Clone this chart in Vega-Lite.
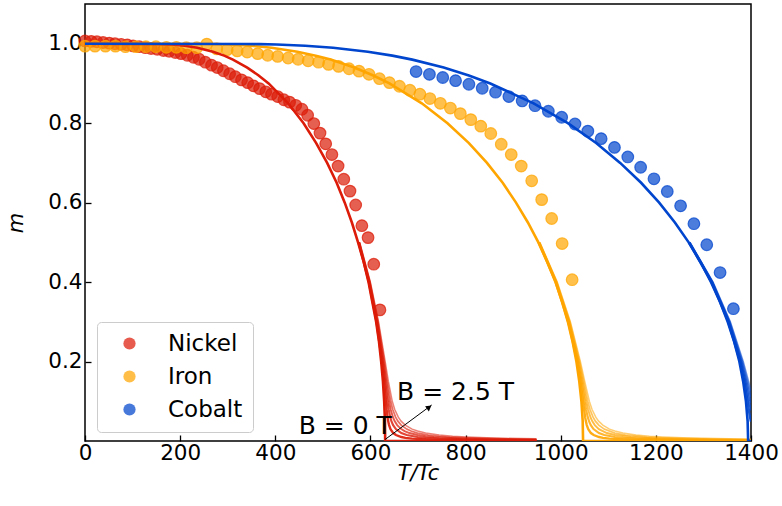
{
"$schema": "https://vega.github.io/schema/vega-lite/v6.json",
"width": 666, "height": 437,
"autosize": {"type": "none"},
"padding": {"left": 85, "top": 4, "right": 31, "bottom": 65},
"background": "white",
"config": {
  "font": "DejaVu Sans",
  "view": {"stroke": "black", "strokeWidth": 1.5},
  "axis": {"domain": false, "grid": false, "tickColor": "black", "tickSize": -6, "tickWidth": 1.3, "labelColor": "black", "labelFont": "DejaVu Sans", "labelFontSize": 21.5, "labelFlush": false, "titleFont": "DejaVu Sans", "titleFontSize": 21, "titleFontStyle": "italic", "titleFontWeight": "normal", "titleColor": "black"}
},
"datasets": {
  "pts": [
    {"el":"Nickel","T":0,"m":1.007},{"el":"Nickel","T":13,"m":1.006},{"el":"Nickel","T":25,"m":1.005},{"el":"Nickel","T":38,"m":1.003},{"el":"Nickel","T":51,"m":1.0015},{"el":"Nickel","T":63,"m":1.0},{"el":"Nickel","T":76,"m":0.9985},{"el":"Nickel","T":89,"m":0.997},{"el":"Nickel","T":101,"m":0.9945},{"el":"Nickel","T":114,"m":0.9925},{"el":"Nickel","T":127,"m":0.99},{"el":"Nickel","T":139,"m":0.988},{"el":"Nickel","T":152,"m":0.986},{"el":"Nickel","T":165,"m":0.983},{"el":"Nickel","T":177,"m":0.981},{"el":"Nickel","T":190,"m":0.978},{"el":"Nickel","T":202,"m":0.975},{"el":"Nickel","T":215,"m":0.971},{"el":"Nickel","T":228,"m":0.966},{"el":"Nickel","T":240,"m":0.961},{"el":"Nickel","T":253,"m":0.9535},{"el":"Nickel","T":266,"m":0.946},{"el":"Nickel","T":278,"m":0.94},{"el":"Nickel","T":291,"m":0.932},{"el":"Nickel","T":304,"m":0.9245},{"el":"Nickel","T":316,"m":0.917},{"el":"Nickel","T":329,"m":0.909},{"el":"Nickel","T":342,"m":0.902},{"el":"Nickel","T":354,"m":0.894},{"el":"Nickel","T":367,"m":0.887},{"el":"Nickel","T":380,"m":0.879},{"el":"Nickel","T":392,"m":0.873},{"el":"Nickel","T":405,"m":0.867},{"el":"Nickel","T":418,"m":0.859},{"el":"Nickel","T":430,"m":0.853},{"el":"Nickel","T":443,"m":0.845},{"el":"Nickel","T":456,"m":0.835},{"el":"Nickel","T":468,"m":0.82},{"el":"Nickel","T":481,"m":0.799},{"el":"Nickel","T":494,"m":0.775},{"el":"Nickel","T":506,"m":0.748},{"el":"Nickel","T":519,"m":0.721},{"el":"Nickel","T":532,"m":0.692},{"el":"Nickel","T":544,"m":0.659},{"el":"Nickel","T":557,"m":0.629},{"el":"Nickel","T":569,"m":0.594},{"el":"Nickel","T":582,"m":0.542},{"el":"Nickel","T":595,"m":0.512},{"el":"Nickel","T":607,"m":0.445},{"el":"Nickel","T":620,"m":0.33},
    {"el":"Iron","T":0,"m":0.994},{"el":"Iron","T":21,"m":0.994},{"el":"Iron","T":43,"m":0.994},{"el":"Iron","T":64,"m":0.994},{"el":"Iron","T":85,"m":0.9925},{"el":"Iron","T":107,"m":0.9925},{"el":"Iron","T":128,"m":0.9925},{"el":"Iron","T":149,"m":0.9925},{"el":"Iron","T":171,"m":0.991},{"el":"Iron","T":192,"m":0.991},{"el":"Iron","T":213,"m":0.99},{"el":"Iron","T":235,"m":0.99},{"el":"Iron","T":256,"m":0.999},{"el":"Iron","T":277,"m":0.987},{"el":"Iron","T":299,"m":0.985},{"el":"Iron","T":320,"m":0.982},{"el":"Iron","T":341,"m":0.979},{"el":"Iron","T":363,"m":0.975},{"el":"Iron","T":384,"m":0.971},{"el":"Iron","T":405,"m":0.968},{"el":"Iron","T":427,"m":0.964},{"el":"Iron","T":448,"m":0.961},{"el":"Iron","T":469,"m":0.957},{"el":"Iron","T":491,"m":0.9535},{"el":"Iron","T":512,"m":0.948},{"el":"Iron","T":533,"m":0.943},{"el":"Iron","T":555,"m":0.937},{"el":"Iron","T":576,"m":0.931},{"el":"Iron","T":597,"m":0.923},{"el":"Iron","T":619,"m":0.912},{"el":"Iron","T":640,"m":0.902},{"el":"Iron","T":661,"m":0.893},{"el":"Iron","T":683,"m":0.883},{"el":"Iron","T":704,"m":0.873},{"el":"Iron","T":725,"m":0.862},{"el":"Iron","T":747,"m":0.85},{"el":"Iron","T":768,"m":0.838},{"el":"Iron","T":789,"m":0.824},{"el":"Iron","T":811,"m":0.809},{"el":"Iron","T":832,"m":0.7925},{"el":"Iron","T":853,"m":0.774},{"el":"Iron","T":875,"m":0.747},{"el":"Iron","T":896,"m":0.721},{"el":"Iron","T":917,"m":0.692},{"el":"Iron","T":939,"m":0.655},{"el":"Iron","T":960,"m":0.6075},{"el":"Iron","T":981,"m":0.56},{"el":"Iron","T":1003,"m":0.497},{"el":"Iron","T":1024,"m":0.406},
    {"el":"Cobalt","T":696,"m":0.93},{"el":"Cobalt","T":724,"m":0.923},{"el":"Cobalt","T":752,"m":0.915},{"el":"Cobalt","T":779,"m":0.907},{"el":"Cobalt","T":807,"m":0.898},{"el":"Cobalt","T":835,"m":0.888},{"el":"Cobalt","T":863,"m":0.878},{"el":"Cobalt","T":891,"m":0.867},{"el":"Cobalt","T":919,"m":0.856},{"el":"Cobalt","T":946,"m":0.844},{"el":"Cobalt","T":974,"m":0.83},{"el":"Cobalt","T":1002,"m":0.815},{"el":"Cobalt","T":1030,"m":0.798},{"el":"Cobalt","T":1057,"m":0.78},{"el":"Cobalt","T":1085,"m":0.761},{"el":"Cobalt","T":1113,"m":0.739},{"el":"Cobalt","T":1141,"m":0.715},{"el":"Cobalt","T":1168,"m":0.689},{"el":"Cobalt","T":1196,"m":0.66},{"el":"Cobalt","T":1224,"m":0.628},{"el":"Cobalt","T":1252,"m":0.592},{"el":"Cobalt","T":1280,"m":0.547},{"el":"Cobalt","T":1307,"m":0.494},{"el":"Cobalt","T":1335,"m":0.424},{"el":"Cobalt","T":1363,"m":0.333}
  ],
  "lines": [
    {"el":"Nickel","B":0,"T":0,"m":1},{"el":"Nickel","B":0,"T":152,"m":0.9995},{"el":"Nickel","B":0,"T":182,"m":0.998},{"el":"Nickel","B":0,"T":210,"m":0.995},{"el":"Nickel","B":0,"T":236,"m":0.99},{"el":"Nickel","B":0,"T":269,"m":0.98},{"el":"Nickel","B":0,"T":292.5,"m":0.97},{"el":"Nickel","B":0,"T":311,"m":0.96},{"el":"Nickel","B":0,"T":341,"m":0.94},{"el":"Nickel","B":0,"T":365,"m":0.92},{"el":"Nickel","B":0,"T":386,"m":0.9},{"el":"Nickel","B":0,"T":427,"m":0.85},{"el":"Nickel","B":0,"T":459.5,"m":0.8},{"el":"Nickel","B":0,"T":486,"m":0.75},{"el":"Nickel","B":0,"T":509,"m":0.7},{"el":"Nickel","B":0,"T":529,"m":0.65},{"el":"Nickel","B":0,"T":546,"m":0.6},{"el":"Nickel","B":0,"T":561,"m":0.55},{"el":"Nickel","B":0,"T":574,"m":0.5},{"el":"Nickel","B":0,"T":586,"m":0.45},{"el":"Nickel","B":0,"T":596,"m":0.4},{"el":"Nickel","B":0,"T":604,"m":0.35},{"el":"Nickel","B":0,"T":612,"m":0.3},{"el":"Nickel","B":0,"T":618,"m":0.25},{"el":"Nickel","B":0,"T":622.6,"m":0.2},{"el":"Nickel","B":0,"T":626.3,"m":0.15},{"el":"Nickel","B":0,"T":628.9,"m":0.1},{"el":"Nickel","B":0,"T":630.5,"m":0.05},{"el":"Nickel","B":0,"T":631,"m":0},{"el":"Nickel","B":0,"T":949,"m":0},
    {"el":"Nickel","B":0.5,"T":575,"m":0.5},{"el":"Nickel","B":0.5,"T":596.7,"m":0.4},{"el":"Nickel","B":0.5,"T":612.8,"m":0.3},{"el":"Nickel","B":0.5,"T":624.3,"m":0.2},{"el":"Nickel","B":0.5,"T":628.7,"m":0.15},{"el":"Nickel","B":0.5,"T":632.3,"m":0.1},{"el":"Nickel","B":0.5,"T":633.9,"m":0.08},{"el":"Nickel","B":0.5,"T":635.9,"m":0.06},{"el":"Nickel","B":0.5,"T":637.3,"m":0.05},{"el":"Nickel","B":0.5,"T":639.2,"m":0.04},{"el":"Nickel","B":0.5,"T":642.2,"m":0.03},{"el":"Nickel","B":0.5,"T":648,"m":0.02},{"el":"Nickel","B":0.5,"T":653.7,"m":0.015},{"el":"Nickel","B":0.5,"T":665.1,"m":0.01},{"el":"Nickel","B":0.5,"T":673.6,"m":0.008},{"el":"Nickel","B":0.5,"T":687.8,"m":0.006},{"el":"Nickel","B":0.5,"T":716.2,"m":0.004},{"el":"Nickel","B":0.5,"T":744.6,"m":0.003},{"el":"Nickel","B":0.5,"T":801.4,"m":0.002},{"el":"Nickel","B":0.5,"T":949,"m":0.00107},
    {"el":"Nickel","B":1,"T":575.6,"m":0.5},{"el":"Nickel","B":1,"T":597.4,"m":0.4},{"el":"Nickel","B":1,"T":613.8,"m":0.3},{"el":"Nickel","B":1,"T":626,"m":0.2},{"el":"Nickel","B":1,"T":630.9,"m":0.15},{"el":"Nickel","B":1,"T":635.7,"m":0.1},{"el":"Nickel","B":1,"T":638.2,"m":0.08},{"el":"Nickel","B":1,"T":641.6,"m":0.06},{"el":"Nickel","B":1,"T":644.1,"m":0.05},{"el":"Nickel","B":1,"T":647.7,"m":0.04},{"el":"Nickel","B":1,"T":653.5,"m":0.03},{"el":"Nickel","B":1,"T":665,"m":0.02},{"el":"Nickel","B":1,"T":676.4,"m":0.015},{"el":"Nickel","B":1,"T":699.1,"m":0.01},{"el":"Nickel","B":1,"T":716.2,"m":0.008},{"el":"Nickel","B":1,"T":744.6,"m":0.006},{"el":"Nickel","B":1,"T":801.4,"m":0.004},{"el":"Nickel","B":1,"T":858.2,"m":0.003},{"el":"Nickel","B":1,"T":949,"m":0.00214},
    {"el":"Nickel","B":1.5,"T":576.2,"m":0.5},{"el":"Nickel","B":1.5,"T":598.3,"m":0.4},{"el":"Nickel","B":1.5,"T":614.9,"m":0.3},{"el":"Nickel","B":1.5,"T":627.6,"m":0.2},{"el":"Nickel","B":1.5,"T":633.2,"m":0.15},{"el":"Nickel","B":1.5,"T":639.1,"m":0.1},{"el":"Nickel","B":1.5,"T":642.4,"m":0.08},{"el":"Nickel","B":1.5,"T":647.3,"m":0.06},{"el":"Nickel","B":1.5,"T":650.9,"m":0.05},{"el":"Nickel","B":1.5,"T":656.2,"m":0.04},{"el":"Nickel","B":1.5,"T":664.9,"m":0.03},{"el":"Nickel","B":1.5,"T":671.8,"m":0.025},{"el":"Nickel","B":1.5,"T":682,"m":0.02},{"el":"Nickel","B":1.5,"T":699.1,"m":0.015},{"el":"Nickel","B":1.5,"T":716.2,"m":0.012},{"el":"Nickel","B":1.5,"T":733.2,"m":0.01},{"el":"Nickel","B":1.5,"T":758.8,"m":0.008},{"el":"Nickel","B":1.5,"T":801.4,"m":0.006},{"el":"Nickel","B":1.5,"T":835.4,"m":0.005},{"el":"Nickel","B":1.5,"T":886.6,"m":0.004},{"el":"Nickel","B":1.5,"T":949,"m":0.0032},
    {"el":"Nickel","B":2,"T":576.9,"m":0.5},{"el":"Nickel","B":2,"T":599.1,"m":0.4},{"el":"Nickel","B":2,"T":616,"m":0.3},{"el":"Nickel","B":2,"T":629.3,"m":0.2},{"el":"Nickel","B":2,"T":635.4,"m":0.15},{"el":"Nickel","B":2,"T":642.4,"m":0.1},{"el":"Nickel","B":2,"T":646.7,"m":0.08},{"el":"Nickel","B":2,"T":652.9,"m":0.06},{"el":"Nickel","B":2,"T":657.7,"m":0.05},{"el":"Nickel","B":2,"T":664.7,"m":0.04},{"el":"Nickel","B":2,"T":676.2,"m":0.03},{"el":"Nickel","B":2,"T":685.4,"m":0.025},{"el":"Nickel","B":2,"T":699,"m":0.02},{"el":"Nickel","B":2,"T":721.8,"m":0.015},{"el":"Nickel","B":2,"T":744.6,"m":0.012},{"el":"Nickel","B":2,"T":767.3,"m":0.01},{"el":"Nickel","B":2,"T":801.4,"m":0.008},{"el":"Nickel","B":2,"T":858.2,"m":0.006},{"el":"Nickel","B":2,"T":903.6,"m":0.005},{"el":"Nickel","B":2,"T":949,"m":0.0043},
    {"el":"Nickel","B":2.5,"T":577.5,"m":0.5},{"el":"Nickel","B":2.5,"T":599.9,"m":0.4},{"el":"Nickel","B":2.5,"T":617.1,"m":0.3},{"el":"Nickel","B":2.5,"T":631,"m":0.2},{"el":"Nickel","B":2.5,"T":637.7,"m":0.15},{"el":"Nickel","B":2.5,"T":645.9,"m":0.1},{"el":"Nickel","B":2.5,"T":650.9,"m":0.08},{"el":"Nickel","B":2.5,"T":658.6,"m":0.06},{"el":"Nickel","B":2.5,"T":664.5,"m":0.05},{"el":"Nickel","B":2.5,"T":673.2,"m":0.04},{"el":"Nickel","B":2.5,"T":687.6,"m":0.03},{"el":"Nickel","B":2.5,"T":699,"m":0.025},{"el":"Nickel","B":2.5,"T":716.1,"m":0.02},{"el":"Nickel","B":2.5,"T":744.5,"m":0.015},{"el":"Nickel","B":2.5,"T":772.9,"m":0.012},{"el":"Nickel","B":2.5,"T":801.4,"m":0.01},{"el":"Nickel","B":2.5,"T":844,"m":0.008},{"el":"Nickel","B":2.5,"T":874.4,"m":0.007},{"el":"Nickel","B":2.5,"T":915,"m":0.006},{"el":"Nickel","B":2.5,"T":949,"m":0.0054},
    {"el":"Iron","B":0,"T":0,"m":1},{"el":"Iron","B":0,"T":252,"m":0.9995},{"el":"Iron","B":0,"T":275,"m":0.999},{"el":"Iron","B":0,"T":303,"m":0.998},{"el":"Iron","B":0,"T":348,"m":0.995},{"el":"Iron","B":0,"T":392,"m":0.99},{"el":"Iron","B":0,"T":446.5,"m":0.98},{"el":"Iron","B":0,"T":485,"m":0.97},{"el":"Iron","B":0,"T":516.5,"m":0.96},{"el":"Iron","B":0,"T":566,"m":0.94},{"el":"Iron","B":0,"T":606,"m":0.92},{"el":"Iron","B":0,"T":640,"m":0.9},{"el":"Iron","B":0,"T":708,"m":0.85},{"el":"Iron","B":0,"T":762,"m":0.8},{"el":"Iron","B":0,"T":807,"m":0.75},{"el":"Iron","B":0,"T":845,"m":0.7},{"el":"Iron","B":0,"T":878,"m":0.65},{"el":"Iron","B":0,"T":906,"m":0.6},{"el":"Iron","B":0,"T":931,"m":0.55},{"el":"Iron","B":0,"T":953,"m":0.5},{"el":"Iron","B":0,"T":972,"m":0.45},{"el":"Iron","B":0,"T":989,"m":0.4},{"el":"Iron","B":0,"T":1003,"m":0.35},{"el":"Iron","B":0,"T":1015,"m":0.3},{"el":"Iron","B":0,"T":1025,"m":0.25},{"el":"Iron","B":0,"T":1033,"m":0.2},{"el":"Iron","B":0,"T":1039,"m":0.15},{"el":"Iron","B":0,"T":1043.5,"m":0.1},{"el":"Iron","B":0,"T":1046.2,"m":0.05},{"el":"Iron","B":0,"T":1047,"m":0},{"el":"Iron","B":0,"T":1400,"m":0},
    {"el":"Iron","B":0.5,"T":953.6,"m":0.5},{"el":"Iron","B":0.5,"T":989.4,"m":0.4},{"el":"Iron","B":0.5,"T":1015.9,"m":0.3},{"el":"Iron","B":0.5,"T":1034.7,"m":0.2},{"el":"Iron","B":0.5,"T":1041.6,"m":0.15},{"el":"Iron","B":0.5,"T":1046.8,"m":0.1},{"el":"Iron","B":0.5,"T":1049,"m":0.08},{"el":"Iron","B":0.5,"T":1051.3,"m":0.06},{"el":"Iron","B":0.5,"T":1052.9,"m":0.05},{"el":"Iron","B":0.5,"T":1054.8,"m":0.04},{"el":"Iron","B":0.5,"T":1057.9,"m":0.03},{"el":"Iron","B":0.5,"T":1063.5,"m":0.02},{"el":"Iron","B":0.5,"T":1069.3,"m":0.015},{"el":"Iron","B":0.5,"T":1080.5,"m":0.01},{"el":"Iron","B":0.5,"T":1088.9,"m":0.008},{"el":"Iron","B":0.5,"T":1102.8,"m":0.006},{"el":"Iron","B":0.5,"T":1130.8,"m":0.004},{"el":"Iron","B":0.5,"T":1158.7,"m":0.003},{"el":"Iron","B":0.5,"T":1214.5,"m":0.002},{"el":"Iron","B":0.5,"T":1400,"m":0.00095},
    {"el":"Iron","B":1,"T":954.2,"m":0.5},{"el":"Iron","B":1,"T":990.2,"m":0.4},{"el":"Iron","B":1,"T":1017,"m":0.3},{"el":"Iron","B":1,"T":1036.3,"m":0.2},{"el":"Iron","B":1,"T":1043.9,"m":0.15},{"el":"Iron","B":1,"T":1050.1,"m":0.1},{"el":"Iron","B":1,"T":1053.1,"m":0.08},{"el":"Iron","B":1,"T":1056.9,"m":0.06},{"el":"Iron","B":1,"T":1059.5,"m":0.05},{"el":"Iron","B":1,"T":1063.2,"m":0.04},{"el":"Iron","B":1,"T":1069,"m":0.03},{"el":"Iron","B":1,"T":1080.3,"m":0.02},{"el":"Iron","B":1,"T":1091.6,"m":0.015},{"el":"Iron","B":1,"T":1114,"m":0.01},{"el":"Iron","B":1,"T":1130.8,"m":0.008},{"el":"Iron","B":1,"T":1158.7,"m":0.006},{"el":"Iron","B":1,"T":1214.5,"m":0.004},{"el":"Iron","B":1,"T":1270.3,"m":0.003},{"el":"Iron","B":1,"T":1400,"m":0.0019},
    {"el":"Iron","B":1.5,"T":954.9,"m":0.5},{"el":"Iron","B":1.5,"T":991,"m":0.4},{"el":"Iron","B":1.5,"T":1018.1,"m":0.3},{"el":"Iron","B":1.5,"T":1038,"m":0.2},{"el":"Iron","B":1.5,"T":1046.1,"m":0.15},{"el":"Iron","B":1.5,"T":1053.5,"m":0.1},{"el":"Iron","B":1.5,"T":1057.3,"m":0.08},{"el":"Iron","B":1.5,"T":1062.5,"m":0.06},{"el":"Iron","B":1.5,"T":1066.2,"m":0.05},{"el":"Iron","B":1.5,"T":1071.6,"m":0.04},{"el":"Iron","B":1.5,"T":1080.2,"m":0.03},{"el":"Iron","B":1.5,"T":1097,"m":0.02},{"el":"Iron","B":1.5,"T":1113.9,"m":0.015},{"el":"Iron","B":1.5,"T":1147.5,"m":0.01},{"el":"Iron","B":1.5,"T":1172.6,"m":0.008},{"el":"Iron","B":1.5,"T":1214.5,"m":0.006},{"el":"Iron","B":1.5,"T":1298.3,"m":0.004},{"el":"Iron","B":1.5,"T":1400,"m":0.00285},
    {"el":"Iron","B":2,"T":955.5,"m":0.5},{"el":"Iron","B":2,"T":991.8,"m":0.4},{"el":"Iron","B":2,"T":1019.2,"m":0.3},{"el":"Iron","B":2,"T":1039.7,"m":0.2},{"el":"Iron","B":2,"T":1048.3,"m":0.15},{"el":"Iron","B":2,"T":1056.8,"m":0.1},{"el":"Iron","B":2,"T":1061.4,"m":0.08},{"el":"Iron","B":2,"T":1068,"m":0.06},{"el":"Iron","B":2,"T":1072.9,"m":0.05},{"el":"Iron","B":2,"T":1080,"m":0.04},{"el":"Iron","B":2,"T":1091.4,"m":0.03},{"el":"Iron","B":2,"T":1113.8,"m":0.02},{"el":"Iron","B":2,"T":1136.3,"m":0.015},{"el":"Iron","B":2,"T":1181,"m":0.01},{"el":"Iron","B":2,"T":1214.5,"m":0.008},{"el":"Iron","B":2,"T":1270.3,"m":0.006},{"el":"Iron","B":2,"T":1315,"m":0.005},{"el":"Iron","B":2,"T":1400,"m":0.0038},
    {"el":"Iron","B":2.5,"T":956.1,"m":0.5},{"el":"Iron","B":2.5,"T":992.7,"m":0.4},{"el":"Iron","B":2.5,"T":1020.3,"m":0.3},{"el":"Iron","B":2.5,"T":1041.3,"m":0.2},{"el":"Iron","B":2.5,"T":1050.5,"m":0.15},{"el":"Iron","B":2.5,"T":1060.2,"m":0.1},{"el":"Iron","B":2.5,"T":1065.7,"m":0.08},{"el":"Iron","B":2.5,"T":1073.7,"m":0.06},{"el":"Iron","B":2.5,"T":1079.7,"m":0.05},{"el":"Iron","B":2.5,"T":1088.5,"m":0.04},{"el":"Iron","B":2.5,"T":1102.5,"m":0.03},{"el":"Iron","B":2.5,"T":1113.8,"m":0.025},{"el":"Iron","B":2.5,"T":1130.6,"m":0.02},{"el":"Iron","B":2.5,"T":1158.6,"m":0.015},{"el":"Iron","B":2.5,"T":1186.6,"m":0.012},{"el":"Iron","B":2.5,"T":1214.5,"m":0.01},{"el":"Iron","B":2.5,"T":1256.4,"m":0.008},{"el":"Iron","B":2.5,"T":1326.2,"m":0.006},{"el":"Iron","B":2.5,"T":1382,"m":0.005},{"el":"Iron","B":2.5,"T":1400,"m":0.0047},
    {"el":"Cobalt","B":0,"T":0,"m":1},{"el":"Cobalt","B":0,"T":336,"m":0.9995},{"el":"Cobalt","B":0,"T":366.5,"m":0.999},{"el":"Cobalt","B":0,"T":403,"m":0.998},{"el":"Cobalt","B":0,"T":463,"m":0.995},{"el":"Cobalt","B":0,"T":521.5,"m":0.99},{"el":"Cobalt","B":0,"T":594.5,"m":0.98},{"el":"Cobalt","B":0,"T":646,"m":0.97},{"el":"Cobalt","B":0,"T":688,"m":0.96},{"el":"Cobalt","B":0,"T":754,"m":0.94},{"el":"Cobalt","B":0,"T":807,"m":0.92},{"el":"Cobalt","B":0,"T":852,"m":0.9},{"el":"Cobalt","B":0,"T":943,"m":0.85},{"el":"Cobalt","B":0,"T":1015,"m":0.8},{"el":"Cobalt","B":0,"T":1074.5,"m":0.75},{"el":"Cobalt","B":0,"T":1125,"m":0.7},{"el":"Cobalt","B":0,"T":1169,"m":0.65},{"el":"Cobalt","B":0,"T":1207,"m":0.6},{"el":"Cobalt","B":0,"T":1240,"m":0.55},{"el":"Cobalt","B":0,"T":1269,"m":0.5},{"el":"Cobalt","B":0,"T":1294,"m":0.45},{"el":"Cobalt","B":0,"T":1316,"m":0.4},{"el":"Cobalt","B":0,"T":1335,"m":0.35},{"el":"Cobalt","B":0,"T":1351,"m":0.3},{"el":"Cobalt","B":0,"T":1364.6,"m":0.25},{"el":"Cobalt","B":0,"T":1375.5,"m":0.2},{"el":"Cobalt","B":0,"T":1383.5,"m":0.15},{"el":"Cobalt","B":0,"T":1389.4,"m":0.1},{"el":"Cobalt","B":0,"T":1392.9,"m":0.05},{"el":"Cobalt","B":0,"T":1394,"m":0},{"el":"Cobalt","B":0,"T":1400,"m":0},
    {"el":"Cobalt","B":0.5,"T":1269.4,"m":0.5},{"el":"Cobalt","B":0.5,"T":1317.1,"m":0.4},{"el":"Cobalt","B":0.5,"T":1352.3,"m":0.3},{"el":"Cobalt","B":0.5,"T":1377.1,"m":0.2},{"el":"Cobalt","B":0.5,"T":1386.1,"m":0.15},{"el":"Cobalt","B":0.5,"T":1392.6,"m":0.1},{"el":"Cobalt","B":0.5,"T":1395.2,"m":0.08},{"el":"Cobalt","B":0.5,"T":1397.9,"m":0.06},{"el":"Cobalt","B":0.5,"T":1399.6,"m":0.05},{"el":"Cobalt","B":0.5,"T":1400,"m":0.049},
    {"el":"Cobalt","B":1,"T":1270.1,"m":0.5},{"el":"Cobalt","B":1,"T":1317.9,"m":0.4},{"el":"Cobalt","B":1,"T":1353.4,"m":0.3},{"el":"Cobalt","B":1,"T":1378.7,"m":0.2},{"el":"Cobalt","B":1,"T":1388.3,"m":0.15},{"el":"Cobalt","B":1,"T":1395.9,"m":0.1},{"el":"Cobalt","B":1,"T":1399.4,"m":0.08},{"el":"Cobalt","B":1,"T":1400,"m":0.077},
    {"el":"Cobalt","B":1.5,"T":1270.7,"m":0.5},{"el":"Cobalt","B":1.5,"T":1318.7,"m":0.4},{"el":"Cobalt","B":1.5,"T":1354.4,"m":0.3},{"el":"Cobalt","B":1.5,"T":1380.3,"m":0.2},{"el":"Cobalt","B":1.5,"T":1390.5,"m":0.15},{"el":"Cobalt","B":1.5,"T":1399.3,"m":0.1},{"el":"Cobalt","B":1.5,"T":1400,"m":0.096},
    {"el":"Cobalt","B":2,"T":1271.3,"m":0.5},{"el":"Cobalt","B":2,"T":1319.4,"m":0.4},{"el":"Cobalt","B":2,"T":1355.5,"m":0.3},{"el":"Cobalt","B":2,"T":1382,"m":0.2},{"el":"Cobalt","B":2,"T":1392.7,"m":0.15},{"el":"Cobalt","B":2,"T":1398.4,"m":0.12},{"el":"Cobalt","B":2,"T":1400,"m":0.111},
    {"el":"Cobalt","B":2.5,"T":1271.9,"m":0.5},{"el":"Cobalt","B":2.5,"T":1320.3,"m":0.4},{"el":"Cobalt","B":2.5,"T":1356.6,"m":0.3},{"el":"Cobalt","B":2.5,"T":1383.7,"m":0.2},{"el":"Cobalt","B":2.5,"T":1395,"m":0.15},{"el":"Cobalt","B":2.5,"T":1400,"m":0.125}
  ]
},
"layer": [
  {
    "data": {"name": "pts"},
    "mark": {"type": "circle", "size": 135, "fillOpacity": 0.7, "strokeOpacity": 0.75, "strokeWidth": 1.2},
    "encoding": {
      "x": {"field": "T", "type": "quantitative", "scale": {"domain": [0, 1400], "nice": false, "zero": false},
            "axis": {"values": [0,200,400,600,800,1000,1200,1400], "format": "d", "title": "T/Tc", "labelPadding": 7, "titlePadding": -1}},
      "y": {"field": "m", "type": "quantitative", "scale": {"domain": [0, 1.1], "nice": false},
            "axis": {"values": [0.2,0.4,0.6,0.8,1.0], "format": ".1f", "title": "m", "labelPadding": 9, "titlePadding": 21}},
      "color": {"field": "el", "type": "nominal",
                "scale": {"domain": ["Nickel","Iron","Cobalt"], "range": ["#dc1c08","#ffa500","#0045cd"]},
                "legend": {"title": null, "orient": "none", "legendX": 12, "legendY": 318, "padding": 10,
                           "strokeColor": "#cccccc", "fillColor": "white", "cornerRadius": 4,
                           "labelFont": "DejaVu Sans", "labelFontSize": 23, "labelColor": "black",
                           "symbolType": "circle", "symbolSize": 150, "symbolOpacity": 0.72,
                           "symbolOffset": 11, "labelOffset": 27, "rowPadding": 9}},
      "stroke": {"field": "el", "type": "nominal",
                 "scale": {"domain": ["Nickel","Iron","Cobalt"], "range": ["#dc1c08","#ffa500","#0045cd"]},
                 "legend": null}
    }
  },
  {
    "data": {"name": "lines"},
    "mark": {"type": "line", "clip": true},
    "encoding": {
      "x": {"field": "T", "type": "quantitative"},
      "y": {"field": "m", "type": "quantitative"},
      "color": {"field": "el", "type": "nominal",
                "scale": {"domain": ["Nickel","Iron","Cobalt"], "range": ["#dc1c08","#ffa500","#0045cd"]},
                "legend": null},
      "opacity": {"field": "B", "type": "ordinal", "scale": {"domain": [0,0.5,1,1.5,2,2.5], "range": [1,0.55,0.55,0.55,0.55,0.55]}, "legend": null},
      "strokeWidth": {"field": "B", "type": "ordinal", "scale": {"domain": [0,0.5,1,1.5,2,2.5], "range": [2.6,1.5,1.5,1.5,1.5,1.5]}, "legend": null}
    }
  },
  {
    "data": {"values": [{"T": 631, "m": 0.004, "T2": 728.8, "m2": 0.0906}]},
    "mark": {"type": "rule", "color": "black", "strokeWidth": 1},
    "encoding": {
      "x": {"field": "T", "type": "quantitative"},
      "y": {"field": "m", "type": "quantitative"},
      "x2": {"field": "T2"},
      "y2": {"field": "m2"}
    }
  },
  {
    "data": {"values": [{"T": 723.5, "m": 0.085}]},
    "mark": {"type": "point", "shape": "triangle-up", "filled": true, "color": "black", "size": 40, "angle": 53.5, "opacity": 1},
    "encoding": {
      "x": {"field": "T", "type": "quantitative"},
      "y": {"field": "m", "type": "quantitative"}
    }
  },
  {
    "data": {"values": [{"T": 645, "m": 0.017, "label": "B = 0 T"}]},
    "mark": {"type": "text", "align": "right", "baseline": "alphabetic", "fontSize": 25, "font": "DejaVu Sans", "color": "black"},
    "encoding": {
      "x": {"field": "T", "type": "quantitative"},
      "y": {"field": "m", "type": "quantitative"},
      "text": {"field": "label"}
    }
  },
  {
    "data": {"values": [{"T": 656, "m": 0.103, "label": "B = 2.5 T"}]},
    "mark": {"type": "text", "align": "left", "baseline": "alphabetic", "fontSize": 25, "font": "DejaVu Sans", "color": "black"},
    "encoding": {
      "x": {"field": "T", "type": "quantitative"},
      "y": {"field": "m", "type": "quantitative"},
      "text": {"field": "label"}
    }
  }
],
"resolve": {"scale": {"color": "independent", "opacity": "independent", "strokeWidth": "independent"}}
}
